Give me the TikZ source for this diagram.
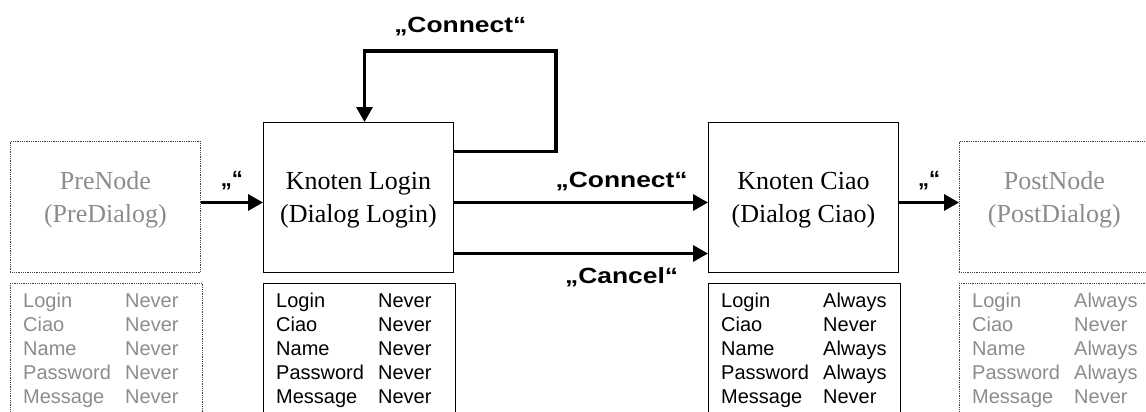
\documentclass[tikz,border=0pt]{standalone}
\usepackage{fontspec}
\setmainfont{Liberation Serif}
\setsansfont{Liberation Sans}
\usepackage{graphicx}
\usepackage{tikz}
\usetikzlibrary{arrows.meta,positioning}
\definecolor{ghost}{RGB}{140,140,140}
\newcommand{\wide}[1]{\scalebox{1.2}[1]{#1}}
\newcommand{\flags}[5]{\begin{tabular}{@{}p{102pt}@{}l@{}}Login & #1\\Ciao & #2\\Name & #3\\Password & #4\\Message & #5\end{tabular}}

\begin{document}
\begin{tikzpicture}[x=1pt,y=-1pt,
 box/.style={draw,line width=1pt,minimum width=190pt,minimum height=150pt,anchor=north west,inner sep=0pt},
 ghostbox/.style={box,draw=black!75,line width=0.8pt,densely dotted,minimum height=131pt},
 tabbox/.style={draw,line width=1pt,minimum width=192pt,minimum height=160pt,anchor=north west,inner sep=0pt},
 ghosttab/.style={tabbox,draw=black!75,line width=0.8pt,densely dotted},
 title/.style={align=center,font=\fontsize{26}{33}\selectfont},
 tab/.style={anchor=west,inner sep=0pt,font=\fontsize{20}{24}\sffamily\selectfont},
 flow/.style={line width=3.3pt,-{Triangle[length=15pt,width=16pt]}},
 lbl/.style={inner sep=0pt,font=\fontsize{22}{26}\sffamily\bfseries\selectfont}]
 \useasboundingbox (0,0) rectangle (1146,412);
 \clip (0,0) rectangle (1146,412);

 \coordinate (titlerow) at (0,200);
 \coordinate (tabrow) at (0,351);
 \coordinate (loopturn) at (556,51);

 % dialog nodes
 \node[ghostbox] (prenode) at (10,141) {};
 \node[box] (login) at (263,122) {};
 \node[box] (ciao) at (708,122) {};
 \node[ghostbox] (postnode) at (959,141) {};

 \node[title,text=ghost] (pretxt) at (prenode.center |- titlerow) {PreNode\\(PreDialog)};
 \node[title] (logintxt) at (login.center |- titlerow) {Knoten Login\\(Dialog Login)};
 \node[title] (ciaotxt) at (ciao.center |- titlerow) {Knoten Ciao\\(Dialog Ciao)};
 \node[title,text=ghost] (posttxt) at (postnode.center |- titlerow) {PostNode\\(PostDialog)};

 % flag tables
 \node[ghosttab] (pretab) at (10,283) {};
 \node[tabbox] (logintab) at (263,283) {};
 \node[tabbox] (ciaotab) at (708,283) {};
 \node[ghosttab] (posttab) at (959,283) {};

 \node[tab,text=ghost] (pretabtxt) at ([xshift=13pt]pretab.west |- tabrow) {\flags{Never}{Never}{Never}{Never}{Never}};
 \node[tab] (logintabtxt) at ([xshift=13pt]logintab.west |- tabrow) {\flags{Never}{Never}{Never}{Never}{Never}};
 \node[tab] (ciaotabtxt) at ([xshift=13pt]ciaotab.west |- tabrow) {\flags{Always}{Never}{Always}{Always}{Never}};
 \node[tab,text=ghost] (posttabtxt) at ([xshift=13pt]posttab.west |- tabrow) {\flags{Always}{Never}{Always}{Always}{Never}};

 % transitions
 \coordinate (inlogin) at ([yshift=-5pt]login.west);
 \coordinate (outciao) at ([yshift=-5pt]ciao.east);

 \draw[flow] (prenode.east |- inlogin) -- node[lbl,above=11pt] {„“} (inlogin);
 \draw[flow] ([yshift=46pt]login.east) -| (loopturn)
   -| node[lbl,pos=0.25,above=13pt] {\wide{„Connect“}} ([xshift=6pt]login.north);
 \draw[flow] ([yshift=-5pt]login.east) -- node[lbl,pos=0.66,above=10pt] {\wide{„Connect“}} ([yshift=-5pt]ciao.west);
 \draw[flow] ([yshift=-56pt]login.east) -- node[lbl,pos=0.66,below=12pt] {\wide{„Cancel“}} ([yshift=-56pt]ciao.west);
 \draw[flow] (outciao) -- node[lbl,above=11pt] {„“} (postnode.west |- outciao);
\end{tikzpicture}
\end{document}
